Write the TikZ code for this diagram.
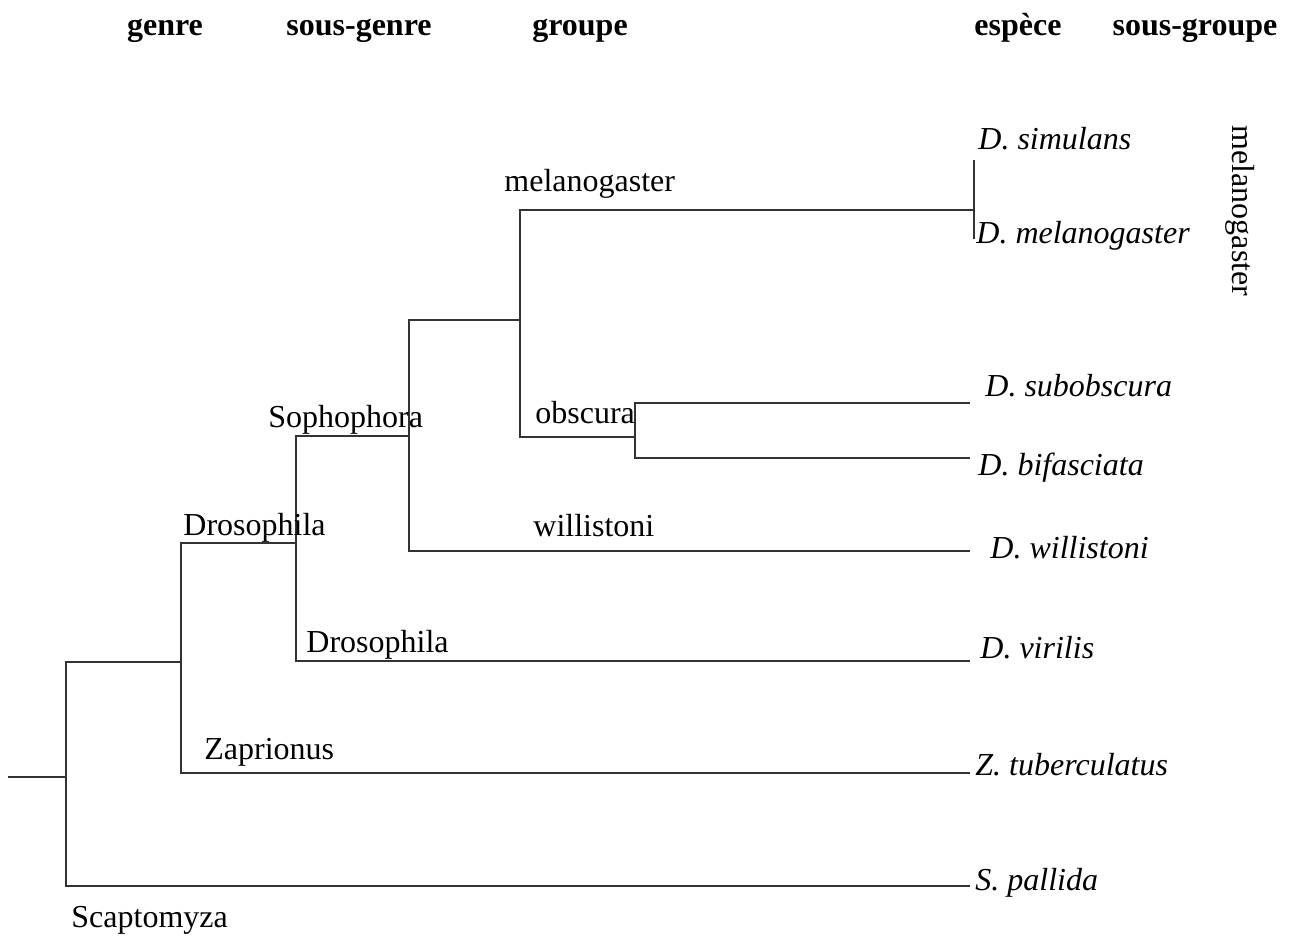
\documentclass[tikz,border=0pt]{standalone}
\usepackage{fontspec}
\setmainfont{Liberation Serif}
\begin{document}
\begin{tikzpicture}[x=0.5pt,y=-0.5pt,
  branch/.style={draw=black!80,line width=0.6pt},
  lbl/.style={inner sep=0pt,anchor=base west,font=\fontsize{16}{19}\selectfont},
  sp/.style={lbl,font=\fontsize{16}{19}\selectfont\itshape},
  head/.style={inner sep=0pt,anchor=base,font=\fontsize{16}{19}\selectfont\bfseries}]
\useasboundingbox (0,0) rectangle (1294,938);

% column headings
\node[head] (h1) at (165,35) {genre};
\node[head] (h2) at (359,35) {sous-genre};
\node[head] (h3) at (580,35) {groupe};
\node[head] (h4) at (1018,35) {espèce};
\node[head] (h5) at (1195,35) {sous-groupe};

% internal nodes (point where the incoming branch meets the vertical)
\coordinate (stub) at (8,777);
\coordinate (n0) at (66,777);
\coordinate (n1) at (181,662);
\coordinate (n2) at (296,543);
\coordinate (n3) at (409,436);
\coordinate (n4) at (520,320);
\coordinate (n5) at (974,210);
\coordinate (n6) at (635,437);
\coordinate (n5a) at (974,160);
\coordinate (n5b) at (974,239);

% tips
\coordinate (tSpa) at (970,886);
\coordinate (tZtu) at (970,773);
\coordinate (tDvi) at (970,661);
\coordinate (tDwi) at (970,551);
\coordinate (tDsu) at (970,403);
\coordinate (tDbi) at (970,458);

% branches
\draw[branch] (stub) -- (n0);
\draw[branch] (n1) -| (n0);
\draw[branch] (tSpa) -| (n0);
\draw[branch] (n2) -| (n1);
\draw[branch] (tZtu) -| (n1);
\draw[branch] (n3) -| (n2);
\draw[branch] (tDvi) -| (n2);
\draw[branch] (n4) -| (n3);
\draw[branch] (tDwi) -| (n3);
\draw[branch] (n5) -| (n4);
\draw[branch] (n6) -| (n4);
\draw[branch] (tDsu) -| (n6);
\draw[branch] (tDbi) -| (n6);
\draw[branch] (n5a) -- (n5b);

% clade labels
\node[lbl] (lmel) at (504,191) {melanogaster};
\node[lbl] (lobs) at (535,423) {obscura};
\node[lbl] (lwil) at (533,536) {willistoni};
\node[lbl] (lsop) at (268,427) {Sophophora};
\node[lbl] (ldro) at (183,535) {Drosophila};
\node[lbl] (ldro2) at (306,652) {Drosophila};
\node[lbl] (lzap) at (204,759) {Zaprionus};
\node[lbl] (lsca) at (71,927) {Scaptomyza};

% species
\node[sp] (sSim) at (978,149) {D. simulans};
\node[sp] (sMel) at (976,243) {D. melanogaster};
\node[sp] (sSub) at (985,396) {D. subobscura};
\node[sp] (sBif) at (978,475) {D. bifasciata};
\node[sp] (sWil) at (990,558) {D. willistoni};
\node[sp] (sVir) at (980,658) {D. virilis};
\node[sp] (sZtu) at (975,775) {Z. tuberculatus};
\node[sp] (sSpa) at (975,890) {S. pallida};

% subgroup label
\node[inner sep=0pt,rotate=-90,font=\fontsize{16}{19}\selectfont] (sgMel) at (1240,211) {melanogaster};
\end{tikzpicture}
\end{document}
